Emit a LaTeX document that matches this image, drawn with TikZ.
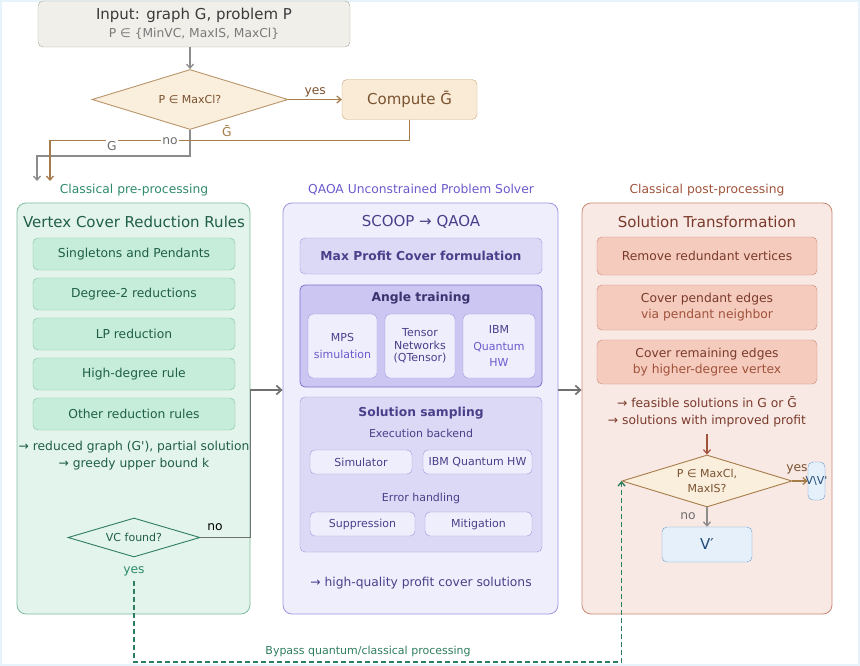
\documentclass[tikz,border=0pt]{standalone}
\usepackage{fontspec}
\setmainfont{DejaVu Sans}
\usetikzlibrary{arrows.meta, positioning, shapes.geometric}

\newcommand{\fsbig}{\fontsize{15}{18}\selectfont}
\newcommand{\fsmid}{\fontsize{12.3}{15}\selectfont}
\newcommand{\fssmall}{\fontsize{11}{12.5}\selectfont}

\definecolor{framecol}{HTML}{E6F3FA}
\definecolor{inputfill}{HTML}{F0EFEA}
\definecolor{inputdraw}{HTML}{A9A597}
\definecolor{inputtext}{HTML}{3A3A3A}
\definecolor{inputsub}{HTML}{7A7A7A}
\definecolor{decfill}{HTML}{FAEEDC}
\definecolor{decdraw}{HTML}{B8956A}
\definecolor{dectext}{HTML}{7A5230}
\definecolor{compfill}{HTML}{FAEBD7}
\definecolor{compdraw}{HTML}{C9A77A}
\definecolor{brownline}{HTML}{A67C4A}
\definecolor{grayline}{HTML}{8C8C8C}
\definecolor{darkgray}{HTML}{6E6E6E}
\definecolor{stagegray}{HTML}{707070}
\definecolor{pretitle}{HTML}{2E8B6A}
\definecolor{prefill}{HTML}{E3F4EC}
\definecolor{predraw}{HTML}{7FBE9F}
\definecolor{preitem}{HTML}{C6EDD9}
\definecolor{pretext}{HTML}{1F5E48}
\definecolor{predec}{HTML}{2E7D5E}
\definecolor{qtitle}{HTML}{6A5ACD}
\definecolor{qfill}{HTML}{EFEEFC}
\definecolor{qdraw}{HTML}{A096DE}
\definecolor{qmid}{HTML}{DCD9F6}
\definecolor{qdark}{HTML}{CBC6F2}
\definecolor{qdarkdraw}{HTML}{7D72CF}
\definecolor{qtext}{HTML}{4A3F8A}
\definecolor{qlight}{HTML}{6A5ACD}
\definecolor{posttitle}{HTML}{A0523A}
\definecolor{postfill}{HTML}{F9E9E5}
\definecolor{postdraw}{HTML}{C98A75}
\definecolor{postitem}{HTML}{F5CBBE}
\definecolor{posttext}{HTML}{7A3A2A}
\definecolor{postlight}{HTML}{A0523A}
\definecolor{vfill}{HTML}{E6F0FA}
\definecolor{vdraw}{HTML}{6A9FD0}
\definecolor{vtext}{HTML}{1F4A7A}

\begin{document}
\begin{tikzpicture}[
        x=1pt, y=-1pt,
        box/.style={draw, rounded corners=5pt, inner sep=0pt, align=center},
        panel/.style={draw, rounded corners=9pt, line width=0.8pt, inner sep=0pt},
        decision/.style={diamond, draw, aspect=3, inner sep=0pt, align=center, line width=0.9pt},
        grayarrow/.style={draw=grayline, line width=1.3pt, -{Straight Barb[length=4pt,width=7pt]}},
        stagearrow/.style={draw=stagegray, line width=1.7pt, -{Straight Barb[length=5pt,width=9pt]}},
        brownarrow/.style={draw=brownline, line width=1.3pt, -{Straight Barb[length=4pt,width=7pt]}},
        steplabel/.style={font=\fsmid, inner sep=1pt},
        preitem/.style={box, fill=preitem, draw=predraw, minimum width=202, minimum height=32, font=\fsmid, text=pretext},
        postitem/.style={box, fill=postitem, draw=postdraw, minimum width=220, font=\fsmid, text=posttext},
        qsub/.style={box, fill=qfill, draw=qdraw, font=\fssmall, text=qtext}
    ]
        \useasboundingbox (0,0) rectangle (860,666);
        \draw[framecol, line width=2pt] (1,1) rectangle (859,665);

        % input and first decision
        \node[box, fill=inputfill, draw=inputdraw, minimum width=312, minimum height=46, text=inputtext] (input) at (194,24)
            {{\fsbig Input: graph G, problem P}\\[5pt]{\fsmid\color{inputsub} P ∈ \{MinVC, MaxIS, MaxCl\}}};
        \node[decision, fill=decfill, draw=decdraw, minimum width=196, minimum height=60, font=\fssmall, text=dectext] (dec1) at (190,99.5) {P ∈ MaxCl?};
        \node[box, fill=compfill, draw=compdraw, minimum width=135, minimum height=40, font=\fsbig, text=dectext] (comp) at (409.5,99.5) {Compute Ḡ};

        \coordinate (inG) at (37,181);
        \coordinate (inGbar) at (50,181);

        \draw[grayarrow] (input.south -| dec1.north) -- (dec1.north);
        \draw[brownarrow] (dec1.east) -- node[above, steplabel, text=dectext, yshift=1pt] {yes} (comp.west);
        \draw[grayarrow] (dec1.south) -- ++(0,26) -| (inG);
        \draw[brownarrow] (comp.south) -- ++(0,21) -| (inGbar);
        \node[steplabel, fill=white, text=darkgray] (nolab) at (170,141) {no};
        \node[steplabel, fill=white, text=darkgray] (Glab) at (112,146) {G};
        \node[steplabel, fill=white, text=brownline, inner sep=2pt] (Gbarlab) at (227,131) {Ḡ};

        % section titles
        \node[font=\fsmid, text=pretitle] (pretitle) at (134,190) {Classical pre-processing};
        \node[font=\fsmid, text=qtitle] (qtitle) at (421,190) {QAOA Unconstrained Problem Solver};
        \node[font=\fsmid, text=posttitle] (posttitle) at (707,190) {Classical post-processing};

        % classical pre-processing
        \node[panel, fill=prefill, draw=predraw, minimum width=233, minimum height=411] (pre) at (133.5,408.5) {};
        \node[font=\fsbig, text=pretext] (pre-head) at (134,222) {Vertex Cover Reduction Rules};
        \foreach \i/\rule in {0/Singletons and Pendants, 1/Degree-2 reductions, 2/LP reduction, 3/High-degree rule, 4/Other reduction rules} {
            \node[preitem] (rule\i) at (134,{254+40*\i}) {\rule};
        }
        \node[font=\fsmid, text=pretext, align=center] (pre-out) at (134,456)
            {→ reduced graph (G\textquotesingle), partial solution\\[2pt]→ greedy upper bound k};
        \node[decision, fill=prefill, draw=predec, minimum width=132, minimum height=39, font=\fssmall, text=pretext] (vc) at (134,537.5) {VC found?};
        \node[steplabel, text=black] (vc-no) at (215,527) {no};
        \node[steplabel, text=pretitle] (vc-yes) at (134,571) {yes};

        % QAOA solver
        \node[panel, fill=qfill, draw=qdraw, minimum width=275, minimum height=411] (qp) at (420.5,408.5) {};
        \node[font=\fsbig, text=qtext] (qp-head) at (421,222) {SCOOP → QAOA};
        \node[box, fill=qmid, draw=qdraw, minimum width=242, minimum height=36, font=\fsmid\bfseries, text=qtext] (mpc) at (421,256) {Max Profit Cover formulation};
        \node[box, fill=qdark, draw=qdarkdraw, minimum width=242, minimum height=102, line width=0.8pt] (angle) at (421,336) {};
        \node[font=\fsmid\bfseries, text=qtext!80!black] (angle-head) at (421,298) {Angle training};
        \node[qsub, minimum width=69, minimum height=64] (mps) at (342.5,346) {MPS\\[4pt]\color{qlight}simulation};
        \node[qsub, minimum width=70, minimum height=64] (tn) at (420,346) {Tensor\\Networks\\(QTensor)};
        \node[qsub, minimum width=72, minimum height=64] (ibm) at (499,346) {IBM\\[4pt]\color{qlight}Quantum\\[4pt]\color{qlight}HW};
        \node[box, fill=qmid, draw=qdraw, minimum width=242, minimum height=155] (samp) at (421,474.5) {};
        \node[font=\fsmid\bfseries, text=qtext] (samp-head) at (421,413) {Solution sampling};
        \node[font=\fssmall, text=qtext] (backend) at (421,433) {Execution backend};
        \node[qsub, minimum width=102, minimum height=24] (sim) at (361,462) {Simulator};
        \node[qsub, minimum width=109, minimum height=24] (hw) at (477.5,462) {IBM Quantum HW};
        \node[font=\fssmall, text=qtext] (errh) at (421,498) {Error handling};
        \node[qsub, minimum width=105, minimum height=24] (supp) at (362.5,524) {Suppression};
        \node[qsub, minimum width=107, minimum height=24] (mitig) at (478.5,524) {Mitigation};
        \node[font=\fsmid, text=qtext] (q-out) at (421,583) {→ high-quality profit cover solutions};

        % classical post-processing
        \node[panel, fill=postfill, draw=postdraw, minimum width=250, minimum height=411] (pp) at (707,408.5) {};
        \node[font=\fsbig, text=posttext] (pp-head) at (707,222) {Solution Transformation};
        \node[postitem, minimum height=38] (redund) at (707,256) {Remove redundant vertices};
        \node[postitem, minimum height=45] (pend) at (707,307.5) {Cover pendant edges\\[1pt]\color{postlight}via pendant neighbor};
        \node[postitem, minimum height=44] (remain) at (707,362) {Cover remaining edges\\[1pt]\color{postlight}by higher-degree vertex};
        \node[font=\fsmid, text=posttext, align=center] (pp-out) at (707,411.5)
            {→ feasible solutions in G or Ḡ\\[2pt]→ solutions with improved profit};
        \node[decision, fill=decfill, draw=brownline, minimum width=170, minimum height=52, font=\fssmall, text=dectext] (dec2) at (707,481) {P ∈ MaxCl,\\[3pt]MaxIS?};
        \node[box, fill=vfill, draw=vdraw, minimum width=17, minimum height=38, font=\fssmall, text=vtext] (vv) at (816.5,481) {\makebox[0pt]{V\textbackslash V\textquotesingle}};
        \node[box, fill=vfill, draw=vdraw, minimum width=90, minimum height=35, font=\fsbig, text=vtext] (vp) at (707,544.5) {V′};
        \node[steplabel, text=dectext] (dec2-yes) at (797,469) {yes};
        \node[steplabel, text=darkgray] (dec2-no) at (688,516) {no};

        % connectors between stages
        \coordinate (stage) at (0,390);
        \coordinate (bypass) at (0,662);
        \draw[stagearrow] (vc.east) -- (vc.east -| pre.east) -- (pre.east |- stage) -- (qp.west |- stage);
        \draw[stagearrow] (qp.east |- stage) -- (pp.west |- stage);
        \draw[draw=postlight, line width=1.2pt, -{Straight Barb[length=4pt,width=7pt]}] (pp-out.south) ++(0,4) -- (dec2.north);
        \draw[brownarrow] (dec2.east) -- (vv.west);
        \draw[grayarrow] (dec2.south) -- (vp.north);
        \draw[draw=predec, line width=1.4pt, dashed, dash pattern=on 5pt off 3pt, -{Straight Barb[length=4pt,width=7pt]}]
            (vc-yes.south) ++(0,4) -- (vc-yes.south |- bypass) -| (dec2.west);
        \node[font=\fssmall, text=predec] (bypass-lab) at (368,651) {Bypass quantum/classical processing};
    \end{tikzpicture}
\end{document}
